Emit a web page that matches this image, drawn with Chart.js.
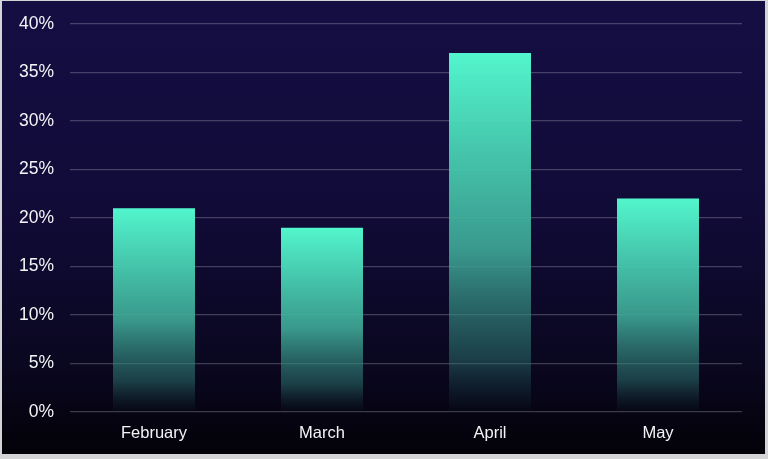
<!DOCTYPE html>
<html>
<head>
<meta charset="utf-8">
<script src="https://cdn.jsdelivr.net/npm/chart.js@4.4.0/dist/chart.umd.min.js"></script>
<style>
  html, body { margin: 0; padding: 0; background: #d4d4d6; width: 768px; height: 459px; overflow: hidden; }
  #wrap { position: absolute; left: 2px; top: 1px; width: 763px; height: 453px; }
</style>
</head>
<body>
<div id="wrap"><canvas id="c"></canvas></div>
<script>
const categories = ['February', 'March', 'April', 'May'];
const values = [21, 19, 37, 22];
const yTicks = [0, 5, 10, 15, 20, 25, 30, 35, 40];

const bgPlugin = {
  id: 'bg',
  beforeDraw(chart) {
    const ctx = chart.ctx;
    const g = ctx.createLinearGradient(0, 0, 0, chart.height);
    g.addColorStop(0, '#150e43');
    g.addColorStop(0.45, '#110b38');
    g.addColorStop(0.8, '#0a0720');
    g.addColorStop(1, '#030208');
    ctx.save();
    ctx.fillStyle = g;
    ctx.fillRect(0, 0, chart.width, chart.height);
    ctx.restore();
  }
};

function barFill(context) {
  const chart = context.chart;
  if (!chart.chartArea || context.dataIndex === undefined) return '#50f3cb';
  const y = chart.scales.y;
  const top = y.getPixelForValue(values[context.dataIndex]);
  const base = y.getPixelForValue(0);
  const g = chart.ctx.createLinearGradient(0, top, 0, base);
  g.addColorStop(0, 'rgba(82,246,205,1)');
  g.addColorStop(0.55, 'rgba(62,168,150,0.9)');
  g.addColorStop(0.85, 'rgba(45,120,112,0.5)');
  g.addColorStop(1, 'rgba(30,80,80,0.02)');
  return g;
}

new Chart(document.getElementById('c'), {
  type: 'bar',
  data: {
    labels: categories,
    datasets: [{
      data: values,
      backgroundColor: barFill,
      borderWidth: 0,
      barPercentage: 0.61,
      categoryPercentage: 0.8
    }]
  },
  plugins: [bgPlugin],
  options: {
    responsive: true,
    maintainAspectRatio: false,
    animation: false,
    layout: { padding: { top: 23, right: 23, left: 0, bottom: 0 } },
    plugins: { legend: { display: false }, tooltip: { enabled: false } },
    scales: {
      x: {
        grid: { display: false, drawTicks: false },
        border: { display: false },
        ticks: {
          color: '#f4f4f6',
          font: { family: 'Liberation Sans, Arial, sans-serif', size: 16.5 },
          padding: 12
        },
        afterFit(s) { s.height = 42; s.paddingLeft = 0; s.paddingRight = 0; }
      },
      y: {
        min: 0,
        max: 40,
        afterBuildTicks(s) { s.ticks = yTicks.map(v => ({ value: v })); },
        grid: { color: 'rgba(255,255,255,0.22)', lineWidth: 1.2, drawTicks: false },
        border: { display: false },
        ticks: {
          color: '#f4f4f6',
          font: { family: 'Liberation Sans, Arial, sans-serif', size: 17.5 },
          padding: 16,
          callback: v => v + '%'
        },
        afterFit(s) { s.width = 68; s.paddingTop = 0; s.paddingBottom = 0; }
      }
    }
  }
});
</script>
</body>
</html>
